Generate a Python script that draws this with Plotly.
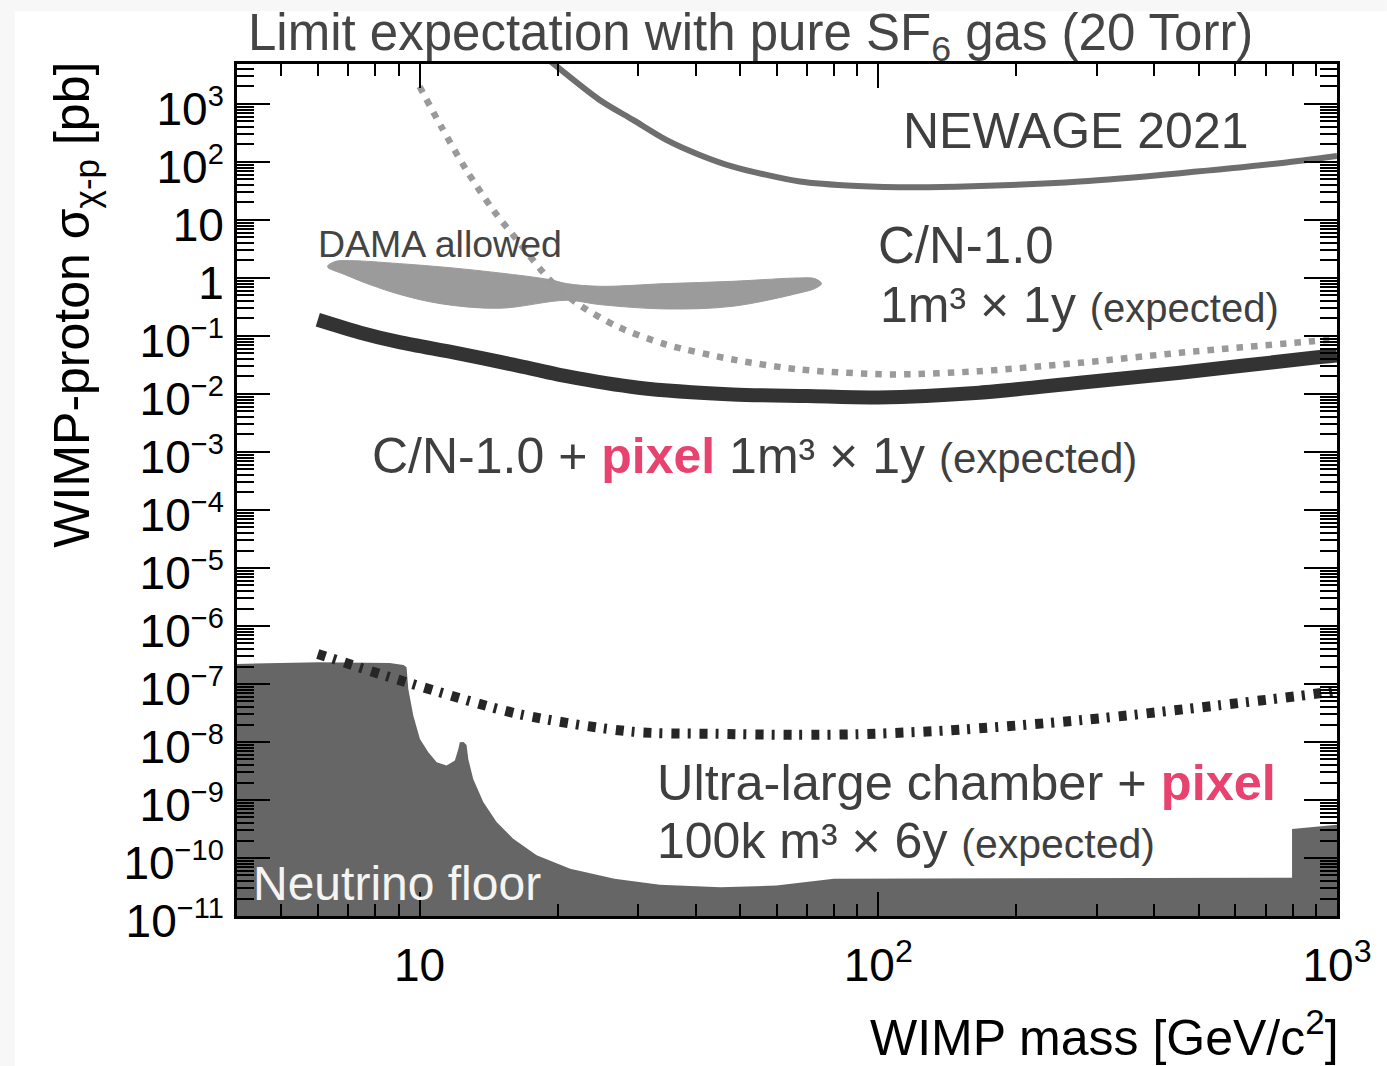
import plotly.graph_objects as go

# ---------------- data (WIMP mass in GeV/c^2, cross section in pb) ----------------
newage_mass = [19, 24.7, 29.2, 34.5, 40.8, 48.2, 67.5, 90, 120, 160, 275, 455, 750, 1000]
newage_xsec = [6000, 1170, 530, 240, 132, 83, 46, 38.5, 36.5, 38, 46, 64, 95, 127]

cn_mass = [10.0, 11.15, 12.64, 14.45, 16.3, 19.2, 22.0, 26.9, 34.5, 48.2, 67.5, 107.6, 166, 275, 455, 887, 1000]
cn_xsec = [1990, 406, 73, 15, 4.56, 0.935, 0.37, 0.147, 0.071, 0.0392, 0.0264, 0.0217, 0.0247,
           0.0344, 0.0512, 0.081, 0.088]

pixel_mass = [6.0, 7.4, 9.04, 12, 16, 20.9, 30, 48.2, 70, 100, 166, 275, 455, 887, 1000]
pixel_xsec = [0.19, 0.115, 0.078, 0.051, 0.032, 0.0202, 0.0128, 0.0098, 0.0092, 0.0087, 0.0105,
              0.0156, 0.0232, 0.042, 0.046]

ultra_mass = [6.0, 9.37, 16.55, 29.2, 45, 66, 90, 141, 280, 554, 914, 1000]
ultra_xsec = [3.3e-7, 1.07e-7, 3.0e-8, 1.5e-8, 1.38e-8, 1.33e-8, 1.36e-8, 1.58e-8, 2.4e-8,
              4.3e-8, 6.9e-8, 7.8e-8]

floor_mass = [3.9, 6.05, 8.6, 9.23, 9.37, 9.45, 9.69, 10.02, 10.45, 10.9, 11.45, 11.94, 12.15,
              12.24, 12.47, 12.66, 12.77, 13.09, 13.77, 14.72, 16.0, 18.0, 21.3, 23.5, 26.6,
              33.4, 45.3, 60, 67.4, 80, 798, 798, 1000, 1100]
floor_xsec = [2.21e-7, 2.36e-7, 2.3e-7, 2.12e-7, 1.94e-7, 8.2e-8, 2.85e-8, 1.13e-8, 6.67e-9,
              4.49e-9, 3.92e-9, 4.78e-9, 7.6e-9, 9.9e-9, 1.0e-8, 8.9e-9, 5.1e-9, 2.3e-9,
              9.2e-10, 4.17e-10, 2.15e-10, 1.11e-10, 6.55e-11, 5.5e-11, 4.4e-11, 3.45e-11,
              3.14e-11, 3.35e-11, 3.76e-11, 4.4e-11, 4.58e-11, 3.15e-10, 3.74e-10, 3.8e-10]

dama_mass = [6.30, 6.53, 7.04, 9.05, 11.63, 14.94, 19.21, 20.92, 24.7, 34.5, 48.2, 67.4, 72.7,
             75.2, 72.7, 67.4, 48.2, 34.5, 24.7, 20.92, 14.94, 11.11, 9.05, 7.82, 6.86, 6.30]
dama_xsec = [1.565, 1.909, 1.986, 1.763, 1.504, 1.219, 0.935, 0.798, 0.717, 0.798, 0.874, 1.0,
             0.973, 0.798, 0.655, 0.552, 0.325, 0.292, 0.347, 0.411, 0.30, 0.36, 0.52, 0.76,
             1.15, 1.565]

x_tick_vals = [10, 100, 1000]
x_tick_text = ["10", "10<sup>2</sup>", "10<sup>3</sup>"]
y_exponents = list(range(3, -12, -1))

FONT = "Liberation Sans, Arial, Helvetica, sans-serif"
TXT = "#3f3f3f"
PINK = "#E8426E"


def y_label(e):
    if e == 0:
        return "1"
    if e == 1:
        return "10"
    exp = str(e).replace("-", "\u2212")
    return "10<sup><span style='font-size:29px'>" + exp + "</span></sup>"


y_tick_vals = [10.0 ** e for e in y_exponents]
y_tick_text = [y_label(e) for e in y_exponents]

x_minor = [d * 10 ** e for e in (0, 1, 2) for d in range(2, 10) if 4 < d * 10 ** e < 1000]
y_minor = [d * 10.0 ** e for e in range(-11, 4) for d in range(2, 10) if d * 10.0 ** e < 4900]

# ---------------- plot geometry helpers (pixels -> paper) ----------------
L, R, T, B = 237.3, 1337.3, 64.0, 916.0


def px(xp):
    return (xp - L) / (R - L)


def py(yp):
    return (B - yp) / (B - T)


fig = go.Figure()

# neutrino floor
fig.add_trace(go.Scatter(
    x=floor_mass + [1100, 3.5, floor_mass[0]],
    y=floor_xsec + [1e-13, 1e-13, floor_xsec[0]],
    mode="lines", fill="toself", fillcolor="#666666",
    line=dict(width=0, color="#666666"), hoverinfo="skip", showlegend=False))

# DAMA allowed region
fig.add_trace(go.Scatter(
    x=dama_mass, y=dama_xsec, mode="lines", fill="toself", fillcolor="#9b9b9b",
    line=dict(width=1, color="#9b9b9b", shape="spline", smoothing=1.0),
    hoverinfo="skip", showlegend=False))

# NEWAGE 2021 limit
fig.add_trace(go.Scatter(
    x=newage_mass, y=newage_xsec, mode="lines",
    line=dict(width=6, color="#6e6e6e", shape="spline", smoothing=0.8),
    hoverinfo="skip", showlegend=False))

# C/N-1.0 expected
fig.add_trace(go.Scatter(
    x=cn_mass, y=cn_xsec, mode="lines",
    line=dict(width=6.5, color="#9a9a9a", dash="6.5px,8px", shape="spline", smoothing=0.8),
    hoverinfo="skip", showlegend=False))

# C/N-1.0 + pixel expected
fig.add_trace(go.Scatter(
    x=pixel_mass, y=pixel_xsec, mode="lines",
    line=dict(width=14, color="#333333", shape="spline", smoothing=0.8),
    hoverinfo="skip", showlegend=False))

# ultra-large chamber + pixel expected
fig.add_trace(go.Scatter(
    x=ultra_mass, y=ultra_xsec, mode="lines",
    line=dict(width=10, color="#262626", dash="8px,8px,3px,9px", shape="spline", smoothing=0.8),
    hoverinfo="skip", showlegend=False))

axis_common = dict(
    type="log", showline=True, linecolor="black", linewidth=3, mirror="ticks",
    ticks="inside", tickwidth=2, tickcolor="black", showgrid=False, zeroline=False,
    tickfont=dict(family=FONT, size=46, color="black"), tickmode="array",
)

fig.update_xaxes(
    **axis_common, range=[0.60206, 3.0], ticklen=24,
    tickvals=x_tick_vals, ticktext=x_tick_text, ticklabelstandoff=7,
    minor=dict(ticks="inside", ticklen=12, tickwidth=2, tickcolor="black",
               tickmode="array", tickvals=x_minor, showgrid=False),
)
fig.update_yaxes(
    **axis_common, range=[-11.0, 3.688], ticklen=33,
    tickvals=y_tick_vals, ticktext=y_tick_text, ticklabelstandoff=1, ticklabelshift=5,
    minor=dict(ticks="inside", ticklen=17, tickwidth=2, tickcolor="black",
               tickmode="array", tickvals=y_minor, showgrid=False),
)


def label(text, left, baseline, size, color=TXT, anchor="top"):
    if anchor == "top":
        yp = baseline - 0.905 * size - 2
    else:
        yp = baseline + 0.212 * size + 2
    fig.add_annotation(
        text=text, xref="paper", yref="paper", x=px(left - 2), y=py(yp),
        xanchor="left", yanchor=anchor, showarrow=False, align="left",
        font=dict(family=FONT, size=size, color=color))


def small(size):
    return "<span style='font-size:" + str(size) + "px'>(expected)</span>"


pixel_word = "<span style='color:" + PINK + "'><b>pixel</b></span>"

label("NEWAGE 2021", 903, 148, 50)
label("DAMA allowed", 318, 257, 37.5, color="#444444")
label("C/N-1.0", 878, 263, 51)
label("1m\u00b3 \u00d7 1y " + small(40), 880, 322, 50)
label("C/N-1.0 + " + pixel_word + " 1m\u00b3 \u00d7 1y " + small(42), 372, 473, 50)
label("Ultra-large chamber + " + pixel_word, 657, 800, 50.5)
label("100k m\u00b3 \u00d7 6y " + small(41), 657, 858, 50)
label("Neutrino floor", 253, 900, 48, color="#f4f4f4")

# title
fig.add_annotation(
    text="Limit expectation with pure SF<sub>6</sub> gas (20 Torr)",
    xref="paper", yref="paper", x=px(751), y=py(50 - 0.905 * 51 - 2),
    xanchor="center", yanchor="top", showarrow=False,
    font=dict(family=FONT, size=51, color="#454545"))

# axis titles
fig.add_annotation(
    text="WIMP mass [GeV/c<sup>2</sup>]", xref="paper", yref="paper",
    x=px(1341), y=py(1055 + 0.212 * 50 + 2), xanchor="right", yanchor="bottom",
    showarrow=False, font=dict(family=FONT, size=50, color="black"))
fig.add_annotation(
    text="WIMP-proton \u03c3<sub>\u03c7-p</sub> [pb]", xref="paper", yref="paper",
    x=px(76), y=py(60), xanchor="center", yanchor="top", textangle=-90,
    showarrow=False, font=dict(family=FONT, size=50, color="black"))

# light page border
fig.add_shape(type="rect", xref="paper", yref="paper", layer="below",
              x0=px(0), x1=px(15), y0=py(1066), y1=py(0),
              fillcolor="#f7f7f7", line=dict(width=0))
fig.add_shape(type="rect", xref="paper", yref="paper", layer="below",
              x0=px(0), x1=px(1387), y0=py(11), y1=py(0),
              fillcolor="#f7f7f7", line=dict(width=0))

fig.update_layout(
    width=1387, height=1066, autosize=False,
    margin=dict(l=237.3, r=1387 - 1337.3, t=64, b=150, pad=0),
    paper_bgcolor="white", plot_bgcolor="white",
    font=dict(family=FONT, color="black"), showlegend=False,
)

fig.write_html("out.html")
